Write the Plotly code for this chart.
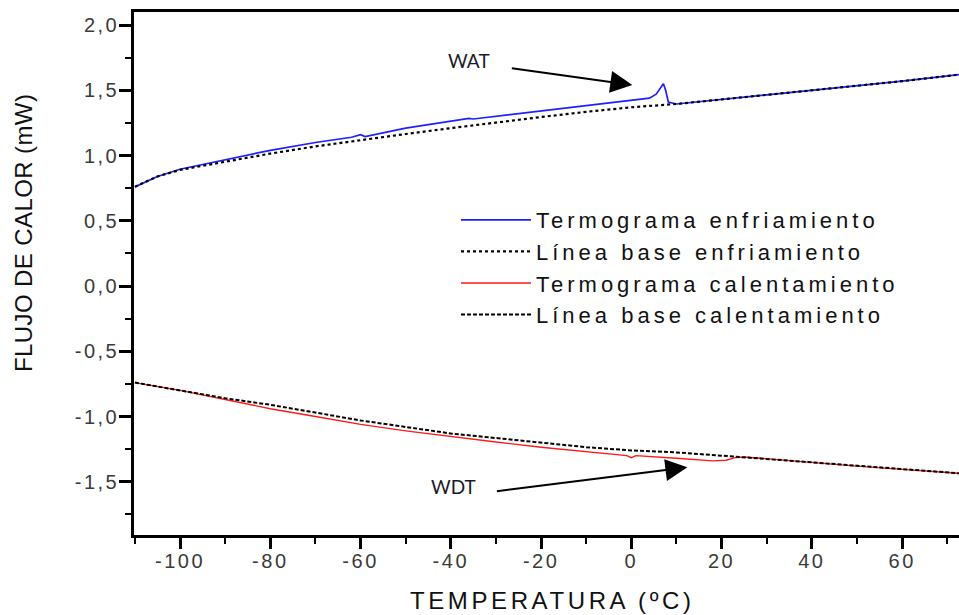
import plotly.graph_objects as go

# ---- data ----
cool_T = [-110, -105, -100, -90, -80, -70, -62, -60, -59, -50, -40, -36, -35, -30, -20, -10, 0, 4, 5.5, 6.5, 7.1, 7.6, 8.2, 10, 20, 30, 40, 50, 60, 72.6]
cool_flux = [0.76, 0.84, 0.895, 0.97, 1.04, 1.10, 1.14, 1.16, 1.145, 1.21, 1.26, 1.285, 1.28, 1.30, 1.34, 1.385, 1.42, 1.44, 1.47, 1.52, 1.55, 1.50, 1.41, 1.395, 1.43, 1.46, 1.50, 1.535, 1.57, 1.62]

cool_base_T = [-110, -105, -100, -90, -80, -70, -60, -50, -40, -30, -20, -10, 0, 10, 20, 30, 40, 50, 60, 72.6]
cool_base = [0.76, 0.84, 0.89, 0.955, 1.015, 1.07, 1.12, 1.165, 1.21, 1.255, 1.295, 1.335, 1.37, 1.395, 1.43, 1.46, 1.50, 1.535, 1.57, 1.62]

heat_T = [-110, -100, -90, -80, -70, -60, -50, -40, -30, -20, -10, -1, 0, 1, 10, 15, 18, 21, 23, 25, 30, 40, 50, 60, 72.6]
heat_flux = [-0.74, -0.80, -0.87, -0.94, -1.00, -1.06, -1.11, -1.155, -1.195, -1.235, -1.27, -1.30, -1.315, -1.30, -1.32, -1.335, -1.34, -1.335, -1.315, -1.31, -1.325, -1.35, -1.38, -1.405, -1.435]

heat_base_T = [-110, -100, -90, -80, -70, -60, -50, -40, -30, -20, -10, 0, 10, 20, 30, 40, 50, 60, 72.6]
heat_base = [-0.74, -0.80, -0.86, -0.91, -0.97, -1.03, -1.08, -1.13, -1.165, -1.20, -1.235, -1.26, -1.275, -1.30, -1.325, -1.35, -1.38, -1.405, -1.435]

series_names = ["Termograma enfriamiento", "Línea base enfriamiento",
                "Termograma calentamiento", "Línea base calentamiento"]

x_tickvals = [-100, -80, -60, -40, -20, 0, 20, 40, 60]
x_ticktext = ["-100", "-80", "-60", "-40", "-20", "0", "20", "40", "60"]
y_tickvals = [-1.5, -1.0, -0.5, 0.0, 0.5, 1.0, 1.5, 2.0]
y_ticktext = ["-1,5", "-1,0", "-0,5", "0,0", "0,5", "1,0", "1,5", "2,0"]

x_title = "TEMPERATURA (ºC)"
y_title = "FLUJO DE CALOR (mW)"


def spaced(t, px):
    return '<span style="letter-spacing:%spx">%s</span>' % (px, t)


LEG_SP = 4.0
fig = go.Figure()
fig.add_trace(go.Scatter(x=cool_T, y=cool_flux, mode="lines", name=spaced(series_names[0], LEG_SP),
                         line=dict(color="#1f1fff", width=1.7)))
fig.add_trace(go.Scatter(x=cool_base_T, y=cool_base, mode="lines", name=spaced(series_names[1], LEG_SP),
                         line=dict(color="#000000", width=2.2, dash="dot")))
fig.add_trace(go.Scatter(x=heat_T, y=heat_flux, mode="lines", name=spaced(series_names[2], LEG_SP),
                         line=dict(color="#ff1a1a", width=1.4)))
fig.add_trace(go.Scatter(x=heat_base_T, y=heat_base, mode="lines", name=spaced(series_names[3], LEG_SP),
                         line=dict(color="#000000", width=2.0, dash="4px,2px")))

tick_font = dict(family="Liberation Sans, Arial, sans-serif", size=20, color="#3a3a3a")

fig.update_xaxes(range=[-110.2, 72.6], tickvals=x_tickvals,
                 ticktext=[spaced(t, 2.5) for t in x_ticktext],
                 ticks="outside", ticklen=11, tickwidth=2.5, tickcolor="#000",
                 minor=dict(dtick=10, tick0=0, ticks="outside", ticklen=6, tickwidth=2, tickcolor="#000"),
                 showline=True, linewidth=2.5, linecolor="#000", mirror=True,
                 showgrid=False, zeroline=False, tickfont=tick_font, ticklabelstandoff=-5)
fig.update_yaxes(range=[-1.908, 2.1], tickvals=y_tickvals,
                 ticktext=[spaced(t, 2.5) for t in y_ticktext],
                 ticks="outside", ticklen=12, tickwidth=2.5, tickcolor="#000",
                 minor=dict(dtick=0.25, tick0=0, ticks="outside", ticklen=6, tickwidth=2, tickcolor="#000"),
                 showline=True, linewidth=2.5, linecolor="#000",
                 showgrid=False, zeroline=False, tickfont=tick_font, ticklabelstandoff=-4)

title_font = dict(family="Liberation Sans, Arial, sans-serif", size=24, color="#111")

annotations = [
    dict(text=spaced(x_title, 3.6), xref="paper", yref="paper", x=(552 - 134) / 825, y=-(600 - 535) / 523,
         showarrow=False, font=title_font, xanchor="center", yanchor="middle"),
    dict(text=spaced(y_title, 0.4), xref="paper", yref="paper", x=-(134 - 23) / 825, y=(535 - 233) / 523,
         showarrow=False, font=title_font, textangle=-90, xanchor="center", yanchor="middle"),
    dict(text="WAT", xref="x", yref="y", x=(469 - 631) / 4.51, y=2.0 - (61 - 25) / 130.7,
         showarrow=False, font=dict(family="Lato, sans-serif", size=19, color="#1a1a2a")),
    dict(text="", xref="x", yref="y", x=(632 - 631) / 4.51, y=2.0 - (85 - 25) / 130.7,
         ax=-122, ay=-17, showarrow=True, arrowhead=2, arrowsize=2.2, arrowwidth=2, arrowcolor="#000"),
    dict(text="WDT", xref="x", yref="y", x=(453 - 631) / 4.51, y=2.0 - (487 - 25) / 130.7,
         showarrow=False, font=dict(family="Lato, sans-serif", size=19, color="#1a1a2a")),
    dict(text="", xref="x", yref="y", x=(687 - 631) / 4.51, y=2.0 - (468 - 25) / 130.7,
         ax=-192, ay=24, showarrow=True, arrowhead=2, arrowsize=2.2, arrowwidth=2, arrowcolor="#000"),
]

fig.update_layout(
    width=959, height=615,
    margin=dict(l=134, r=0, t=12, b=80),
    plot_bgcolor="white", paper_bgcolor="white",
    showlegend=True,
    legend=dict(x=(456 - 134) / 825, y=(535 - 199) / 523, xanchor="left", yanchor="top",
                bgcolor="rgba(0,0,0,0)", itemwidth=70, tracegroupgap=0,
                font=dict(family="Liberation Sans, Arial, sans-serif", size=22, color="#111")),
    annotations=annotations,
)

fig.write_html("out.html")
